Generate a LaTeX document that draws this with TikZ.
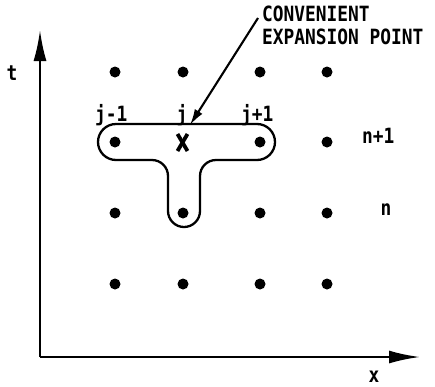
\documentclass[tikz,border=0pt]{standalone}
\usepackage{fontspec}
\newfontfamily\lblfont[FakeStretch=0.85]{DejaVu Sans Mono Bold}
\usetikzlibrary{arrows.meta}
\begin{document}
\begin{tikzpicture}[x=1pt,y=-1pt,
  lbl/.style={font=\lblfont\fontsize{21}{24}\selectfont,inner sep=0pt},
  gridpt/.style={circle,fill=black,inner sep=0pt,minimum size=11pt},
  axis/.style={line width=2.4pt,-{Latex[length=31pt,width=13pt]}},
  lead/.style={line width=2.1pt,-{Latex[length=16pt,width=9pt]}}]
\useasboundingbox (0,0) rectangle (435,386);
% axes
\coordinate (O) at (40,357);
\coordinate (T) at (40,30);
\coordinate (X) at (420,357);
\draw[axis] (O) -- (T);
\draw[axis] (O) -- (X);
% grid points
\foreach \c/\xx in {1/115,2/183,3/260,4/327}{
  \foreach \r/\yy in {1/72,2/142,3/213,4/284}{
    \ifnum\c=2 \ifnum\r=2 \else \node[gridpt] (p\c\r) at (\xx,\yy) {};\fi
    \else \node[gridpt] (p\c\r) at (\xx,\yy) {};\fi
  }
}
% T-shaped stencil
\draw[line width=2.3pt]
  (116,124) -- (257,124) arc[start angle=90,end angle=-90,radius=18pt]
  -- (216,160) arc[start angle=90,end angle=180,radius=16pt]
  -- (200,211) arc[start angle=0,end angle=-180,radius=16pt]
  -- (168,176) arc[start angle=0,end angle=90,radius=16pt]
  -- (116,160) arc[start angle=270,end angle=90,radius=18pt] -- cycle;
% expansion point X
\coordinate (E) at (182.5,142.5);
\draw[line width=3.8pt] ([shift={(-5,-8.5)}]E) -- ([shift={(5,8.5)}]E);
\draw[line width=3.8pt] ([shift={(5,-8.5)}]E) -- ([shift={(-5,8.5)}]E);
% labels
\node[lbl,anchor=base] (tl) at (12,80) {t};
\node[lbl,anchor=base] (xl) at (374,382) {x};
\node[lbl,anchor=base west] (jm) at (95,121) {j-1};
\node[lbl,anchor=base] (jj) at (182,121) {j};
\node[lbl,anchor=base west] (jp) at (241,121) {j+1};
\node[lbl,anchor=base west] (np) at (362,143) {n+1};
\node[lbl,anchor=base] (nn) at (386,215) {n};
\node[lbl,anchor=base west] (c1) at (262,21) {CONVENIENT};
\node[lbl,anchor=base west] (c2) at (262,44) {EXPANSION POINT};
% leader arrow
\coordinate (L0) at (258,18);
\coordinate (L1) at (190,125);
\draw[lead] (L0) -- (L1);
\end{tikzpicture}
\end{document}
